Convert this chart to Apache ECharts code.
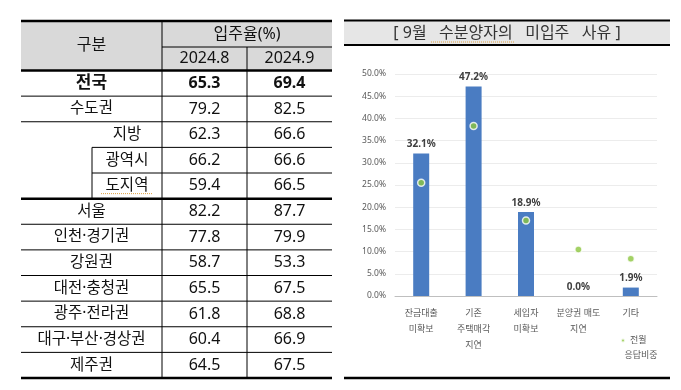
<!DOCTYPE html>
<html>
<head>
<meta charset="utf-8">
<script src="https://cdn.jsdelivr.net/npm/echarts@6/dist/echarts.min.js"></script>
<style>
html,body{margin:0;padding:0;background:#fff;}
#main{width:681px;height:390px;}
</style>
</head>
<body>
<div id="main"></div>
<script>
// ---- Table data ----
const regions = ['전국','수도권','지방','광역시','도지역','서울','인천·경기권','강원권','대전·충청권','광주·전라권','대구·부산·경상권','제주권'];
const rateAug = [65.3,79.2,62.3,66.2,59.4,82.2,77.8,58.7,65.5,61.8,60.4,64.5];
const rateSep = [69.4,82.5,66.6,66.6,66.5,87.7,79.9,53.3,67.5,68.8,66.9,67.5];
const tableHeaders = ['구분','입주율(%)','2024.8','2024.9'];

// ---- Chart data ----
const chartTitle = '[ 9월   수분양자의   미입주   사유 ]';
const reasons = ['잔금대출\n미확보','기존\n주택매각\n지연','세입자\n미확보','분양권 매도\n지연','기타'];
const thisMonth = [32.1,47.2,18.9,0.0,1.9];
const lastMonth = [25.5,38.3,17.0,10.5,8.4];
const seriesNames = ['9월','전월 응답비중'];

const FONT = '"Noto Sans","Noto Sans CJK KR",sans-serif';

// ---- Table geometry ----
const X0 = 21, X1 = 162, X2 = 247, X3 = 332, XS = 92;
const T0 = 20, TH = 47, TB = 70.5, RH = 25.625;
const BOTTOM = TB + RH * regions.length;

const g = [];
function line(x1,y1,x2,y2,w,color,dash){
  g.push({type:'line', silent:true, shape:{x1,y1,x2,y2},
    style:{stroke:color||'#000', lineWidth:w||1, lineDash:dash||null}});
}
function text(t,x,y,size,weight,color,family){
  g.push({type:'text', silent:true, x:x, y:y,
    style:{text:t, x:0, y:0, fontSize:size, fontWeight:weight||'normal',
      fontFamily:family||FONT, fill:color||'#111',
      align:'center', verticalAlign:'middle', textAlign:'center', textVerticalAlign:'middle'}});
}
// header fill
g.push({type:'rect', silent:true, shape:{x:X0,y:T0,width:X3-X0,height:TB-T0}, style:{fill:'#d9d9d9'}});
// vertical lines
line(X1,T0,X1,BOTTOM,1);
line(X2,TH,X2,BOTTOM,1);
line(XS,TB+RH*3,XS,TB+RH*5,1);
// header lines
line(X1,TH,X3,TH,1);
line(X0,T0+1,X3,T0+1,2.5);
line(X0,TB,X3,TB,2.5);
// row lines
for(let i=1;i<regions.length;i++){
  const y = TB + RH*i;
  if(i===5){ line(X0,y,X3,y,2.5); }
  else if(i===3||i===4){ line(XS,y,X3,y,1); }
  else { line(X0,y,X3,y,1); }
}
line(X0,BOTTOM,X3,BOTTOM,2.5);
// header texts
text(tableHeaders[0],(X0+X1)/2,(T0+TB)/2,16);
text(tableHeaders[1],(X1+X3)/2,(T0+TH)/2+0.5,16);
text(tableHeaders[2],(X1+X2)/2,(TH+TB)/2,16);
text(tableHeaders[3],(X2+X3)/2,(TH+TB)/2,16);
// rows
for(let i=0;i<regions.length;i++){
  const yc = TB + RH*i + RH/2;
  const bold = i===0;
  const lx = (i>=2 && i<=4) ? (XS+X1)/2 : (X0+X1)/2;
  text(regions[i], lx, yc, bold?17:15.5, bold?'bold':'normal');
  text(rateAug[i].toFixed(1),(X1+X2)/2,yc,16,bold?'bold':'normal');
  text(rateSep[i].toFixed(1),(X2+X3)/2,yc,16,bold?'bold':'normal');
}
// spell-check wavy underline under 도지역
line(101,TB+RH*5-5,152,TB+RH*5-5,1,'#e0a040',[1,1]);

// ---- Chart frame ----
const CX0 = 344, CX1 = 670;
g.push({type:'rect', silent:true, shape:{x:CX0,y:20,width:CX1-CX0,height:25}, style:{fill:'#e6e6e6'}});
line(CX0,20.5,CX1,20.5,2);
line(CX0,45,CX1,45,2);
line(CX0,378,CX1,378,2.5);
text(chartTitle,(CX0+CX1)/2,33,16,'normal','#333');
line(431,42,515,42,1,'#e0a040',[1,1]);
// legend second line
text('응답비중',641,355,9,'normal','#595959');

const chart = echarts.init(document.getElementById('main'));
chart.setOption({
  animation:false,
  textStyle:{fontFamily:FONT},
  graphic:{elements:g},
  legend:{
    data:[seriesNames[1]],
    left:615, top:331,
    icon:'circle', itemWidth:4, itemHeight:4,
    formatter:function(n){ return n.split(' ')[0]; },
    textStyle:{fontSize:9, color:'#595959', fontFamily:FONT}
  },
  grid:{left:395, right:24, top:74, bottom:94},
  xAxis:{
    type:'category', data:reasons,
    axisLine:{lineStyle:{color:'#bfbfbf'}},
    axisTick:{show:false},
    axisLabel:{fontSize:9, color:'#595959', lineHeight:16, margin:9, interval:0, fontFamily:FONT}
  },
  yAxis:{
    type:'value', min:0, max:50, interval:5,
    axisLine:{show:false}, axisTick:{show:false},
    axisLabel:{fontSize:8.5, color:'#595959', margin:9, fontFamily:FONT,
      formatter:function(v){ return v.toFixed(1)+'%'; }},
    splitLine:{lineStyle:{color:'#ececec'}}
  },
  series:[
    {name:seriesNames[0], type:'bar', data:thisMonth, barWidth:16,
      itemStyle:{color:'#4a7cc2'},
      label:{show:true, position:'top', distance:4, fontSize:10, fontWeight:'bold', color:'#404040',
        fontFamily:FONT, formatter:function(p){ return p.value.toFixed(1)+'%'; }}},
    {name:seriesNames[1], type:'scatter', data:lastMonth, symbolSize:7, z:5,
      itemStyle:{color:'#8cc63e', borderColor:'#ffffff', borderWidth:1.5}}
  ]
});
</script>
</body>
</html>
